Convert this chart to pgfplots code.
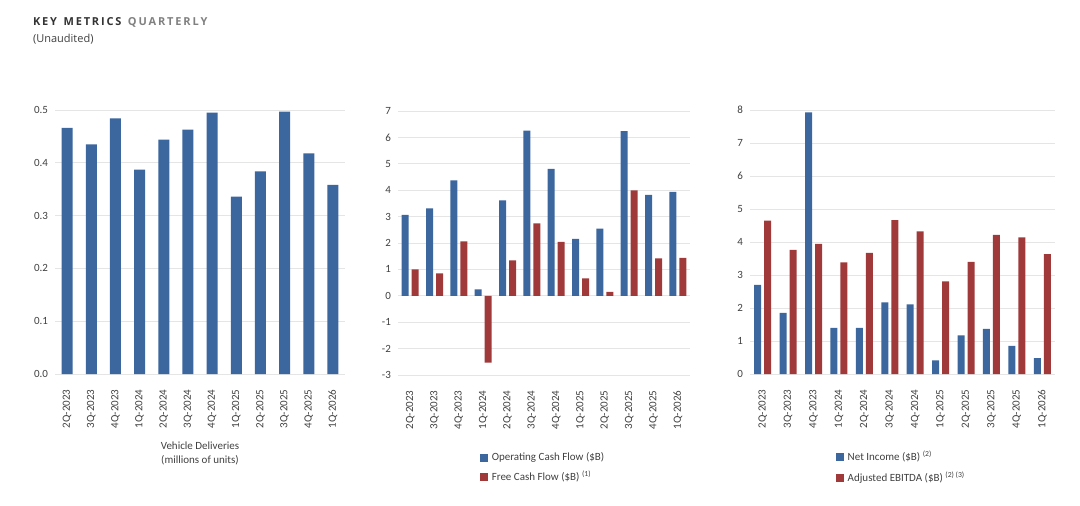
\documentclass[border=0pt]{standalone}
\usepackage{pgfplots}
\pgfplotsset{compat=1.18}
\usepackage{fontspec}
\setmainfont{Carlito}
\newfontfamily\tfont{Open Sans}
\definecolor{bl}{HTML}{3B679E}
\definecolor{rd}{HTML}{A03A3A}
\definecolor{tx}{HTML}{404040}
\begin{document}
\begin{tikzpicture}[x=0.5pt,y=0.5pt]
\useasboundingbox (0,0) rectangle (1080,505);
\node[anchor=west,font={\tfont\bfseries\fontsize{5.5}{6}\selectfont},text=black!80] at (26,483) {K\,E\,Y\,\, M\,E\,T\,R\,I\,C\,S\,\, \textcolor{gray}{Q\,U\,A\,R\,T\,E\,R\,L\,Y}};
\node[anchor=west,font={\tfont\fontsize{5.5}{6}\selectfont},text=tx] at (26,466) {(Unaudited)};
\pgfplotsset{
 base/.style={scale only axis, height=132pt, xmin=-0.5, xmax=11.5,
  axis line style={draw=none}, tick style={draw=none},
  ymajorgrids, grid style={gray!20},
  xtick={0,...,11}, xticklabels={2Q-2023,3Q-2023,4Q-2023,1Q-2024,2Q-2024,3Q-2024,4Q-2024,1Q-2025,2Q-2025,3Q-2025,4Q-2025,1Q-2026},
  x tick label style={rotate=90,anchor=east,font=\fontsize{5.5}{6}\selectfont,text=tx},
  y tick label style={font=\fontsize{5.5}{6}\selectfont,text=tx},
  /pgf/number format/assume math mode=true,
  ybar, bar width=3.5pt,
  legend style={draw=none,fill=none,font=\fontsize{5.5}{6.5}\selectfont,text=tx,legend cell align=left,at={(0.5,-0.26)},anchor=north},
  legend image code/.code={\fill[#1] (0pt,-2pt) rectangle (4pt,2pt);}
 }}
\begin{axis}[base, at={(27.5pt,65.5pt)}, anchor=south west, width=145pt,
  ymin=0,ymax=0.5,ytick={0,0.1,...,0.5}, bar width=5.5pt,
  /pgf/number format/fixed,/pgf/number format/precision=1,/pgf/number format/fixed zerofill,
  xlabel={\shortstack{Vehicle Deliveries\\(millions of units)}}, xlabel style={font=\fontsize{5.5}{6.5}\selectfont,text=tx}]
\addplot[fill=bl,draw=none] coordinates {(0,0.466)(1,0.435)(2,0.484)(3,0.387)(4,0.444)(5,0.463)(6,0.495)(7,0.336)(8,0.384)(9,0.497)(10,0.418)(11,0.358)};
\end{axis}
\begin{axis}[base, at={(199pt,65pt)}, anchor=south west, width=146pt,
  ymin=-3,ymax=7,ytick={-3,...,7}, bar width=3.5pt]
\addplot[fill=bl,draw=none,bar shift=-2.5pt] coordinates {(0,3.07)(1,3.31)(2,4.37)(3,0.24)(4,3.61)(5,6.26)(6,4.81)(7,2.16)(8,2.54)(9,6.24)(10,3.82)(11,3.94)};
\addplot[fill=rd,draw=none,bar shift=2.5pt] coordinates {(0,1.0)(1,0.85)(2,2.06)(3,-2.53)(4,1.34)(5,2.74)(6,2.04)(7,0.66)(8,0.15)(9,3.99)(10,1.42)(11,1.44)};
\legend{Operating Cash Flow (\$B),Free Cash Flow (\$B) \textsuperscript{(1)}}
\end{axis}
\begin{axis}[base, at={(375pt,65.5pt)}, anchor=south west, width=152.5pt,
  ymin=0,ymax=8,ytick={0,...,8}]
\addplot[fill=bl,draw=none,bar shift=-2.5pt] coordinates {(0,2.70)(1,1.85)(2,7.93)(3,1.40)(4,1.40)(5,2.17)(6,2.11)(7,0.41)(8,1.17)(9,1.37)(10,0.85)(11,0.48)};
\addplot[fill=rd,draw=none,bar shift=2.5pt] coordinates {(0,4.65)(1,3.76)(2,3.94)(3,3.38)(4,3.67)(5,4.66)(6,4.32)(7,2.81)(8,3.40)(9,4.22)(10,4.14)(11,3.63)};
\legend{Net Income (\$B) \textsuperscript{(2)},Adjusted EBITDA (\$B) \textsuperscript{(2) (3)}}
\end{axis}
\end{tikzpicture}
\end{document}
